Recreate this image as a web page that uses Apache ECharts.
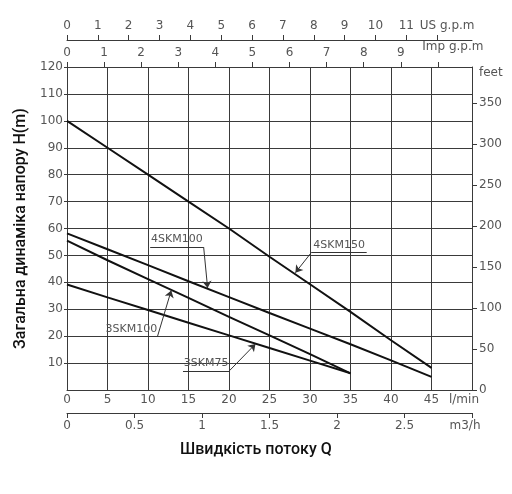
<!DOCTYPE html>
<html>
<head>
<meta charset="utf-8">
<script src="https://cdn.jsdelivr.net/npm/echarts@6/dist/echarts.min.js"></script>
<style>
  html, body { margin: 0; padding: 0; background: #fff; }
  #chart { width: 512px; height: 494px; }
</style>
</head>
<body>
<div id="chart"></div>
<script>
// flow in l/min, head in metres
const flowLpm = [0, 5, 10, 15, 20, 25, 30, 35, 40, 45];
const head4SKM150 = [100, 90, 80, 70, 60, 49.5, 39.3, 29, 18.5, 8.2];
const head4SKM100 = [58.2, 52.3, 46.4, 40.4, 34.5, 28.6, 22.8, 17, 11, 4.9];
const head3SKM100 = [55.5, 48.2, 41.2, 34.2, 27.2, 20.3, 13.3, 6.2];
const head3SKM75 = [39.2, 34.4, 29.7, 25, 20.3, 15.6, 10.9, 6.2];

// secondary scales
const usGpmTicks = [0, 1, 2, 3, 4, 5, 6, 7, 8, 9, 10, 11, 12];
const impGpmTicks = [0, 1, 2, 3, 4, 5, 6, 7, 8, 9, 10];
const feetTicks = [0, 50, 100, 150, 200, 250, 300, 350];

// callouts: underline from -> to, leader from -> arrow tip on the curve
const callouts = {
  '4SKM150': { under: [[30.2, 51.2], [37.0, 51.2]], leader: [[30.2, 51.2], [28.2, 43.6]] },
  '4SKM100': { under: [[10.27, 53.1], [16.87, 53.1]], leader: [[16.87, 53.1], [17.36, 37.9]] },
  '3SKM100': { under: [[4.70, 20.0], [11.18, 20.0]], leader: [[11.18, 20.0], [12.87, 37.0]] },
  '3SKM75':  { under: [[14.32, 7.15], [20.05, 7.15]], leader: [[20.05, 7.15], [23.27, 17.1]] }
};

const pairs = (ys) => ys.map((y, i) => [flowLpm[i], y]);

const labelFont = { fontFamily: 'DejaVu Sans', fontSize: 12, color: '#555' };
const gridColor = '#3a3a3a';

function makeSeries(name, ys) {
  const c = callouts[name];
  return {
    name: name,
    type: 'line',
    xAxisIndex: 0,
    yAxisIndex: 0,
    data: pairs(ys),
    symbol: 'none',
    lineStyle: { color: '#111', width: 2 },
    markLine: {
      silent: true,
      symbol: ['none', 'arrow'],
      symbolSize: 7,
      lineStyle: { color: '#333', width: 1, type: 'solid' },
      label: { show: false },
      data: [
        [{ coord: c.leader[0] }, { coord: c.leader[1] }],
        [
          {
            coord: c.under[0], symbol: 'none',
            label: {
              show: true, formatter: name, position: 'insideMiddleTop',
              distance: 2, fontFamily: 'DejaVu Sans', fontSize: 11, color: '#555'
            }
          },
          { coord: c.under[1], symbol: 'none' }
        ]
      ]
    }
  };
}

const chart = echarts.init(document.getElementById('chart'));

chart.setOption({
  animation: false,
  backgroundColor: '#fff',
  grid: { left: 67, right: 40, top: 67, bottom: 104 },
  xAxis: [
    {
      type: 'value', position: 'bottom', min: 0, max: 50, interval: 5,
      axisLine: { show: true, onZero: false, lineStyle: { color: gridColor } },
      axisTick: { show: false },
      splitLine: { show: true, lineStyle: { color: gridColor, width: 1 } },
      axisLabel: {
        ...labelFont, margin: 4, showMaxLabel: true, showMinLabel: true,
        formatter: (v) => v === 50 ? '{u|l/min}' : String(v),
        rich: { u: { ...labelFont, padding: [0, 16, 0, 0] } }
      }
    },
    {
      type: 'value', position: 'bottom', offset: 23, min: 0, max: 3, interval: 0.5,
      axisLine: { show: true, onZero: false, lineStyle: { color: gridColor } },
      axisTick: { show: true, length: 5, lineStyle: { color: gridColor } },
      splitLine: { show: false },
      axisLabel: {
        ...labelFont, margin: 7, showMaxLabel: true, showMinLabel: true,
        customValues: [0, 0.5, 1, 1.5, 2, 2.5, 3],
        formatter: (v) => v === 3 ? '{u|m3/h}' : String(v),
        rich: { u: { ...labelFont, padding: [0, 14, 0, 0] } }
      }
    },
    {
      type: 'value', position: 'top', min: 0, max: 10.92,
      axisLine: { show: true, onZero: false, lineStyle: { color: gridColor } },
      axisTick: { show: true, length: 5, customValues: impGpmTicks, lineStyle: { color: gridColor } },
      splitLine: { show: false },
      axisLabel: {
        ...labelFont, margin: 8,
        customValues: impGpmTicks,
        formatter: (v) => v === 10 ? '{u|Imp g.p.m}' : String(v),
        rich: { u: { ...labelFont, padding: [0, 0, 6, 30] } }
      }
    },
    {
      type: 'value', position: 'top', offset: 27, min: 0, max: 13.13,
      axisLine: { show: true, onZero: false, lineStyle: { color: gridColor } },
      axisTick: { show: true, length: 5, customValues: usGpmTicks, lineStyle: { color: gridColor } },
      splitLine: { show: false },
      axisLabel: {
        ...labelFont, margin: 8,
        customValues: usGpmTicks,
        formatter: (v) => v === 12 ? '{u|US g.p.m}' : String(v),
        rich: { u: { ...labelFont, padding: [0, 0, 0, 20] } }
      }
    }
  ],
  yAxis: [
    {
      type: 'value', position: 'left', min: 0, max: 120, interval: 10,
      name: 'Загальна динаміка напору H(m)',
      nameLocation: 'middle', nameGap: 36, nameRotate: 90,
      nameTextStyle: { fontFamily: 'Roboto', fontSize: 16, fontWeight: 500, color: '#111' },
      axisLine: { show: true, onZero: false, lineStyle: { color: gridColor } },
      axisTick: { show: true, length: 3, lineStyle: { color: gridColor } },
      splitLine: { show: true, lineStyle: { color: gridColor, width: 1 } },
      axisLabel: { ...labelFont, margin: 4, showMinLabel: false, showMaxLabel: true }
    },
    {
      type: 'value', position: 'right', min: 0, max: 393.7,
      axisLine: { show: true, onZero: false, lineStyle: { color: gridColor } },
      axisTick: { show: true, length: 5, customValues: feetTicks, lineStyle: { color: gridColor } },
      splitLine: { show: false },
      axisLabel: {
        ...labelFont, margin: 7,
        customValues: feetTicks.concat([393.7]),
        formatter: (v) => v > 360 ? '{u|feet}' : String(v),
        rich: { u: { ...labelFont, padding: [12, 0, 0, 0] } }
      }
    }
  ],
  graphic: [
    {
      type: 'text', left: 180, top: 442,
      style: {
        text: 'Швидкість потоку Q',
        fontFamily: 'Roboto', fontSize: 16, fontWeight: 500, fill: '#111'
      }
    }
  ],
  series: [
    makeSeries('4SKM150', head4SKM150),
    makeSeries('4SKM100', head4SKM100),
    makeSeries('3SKM100', head3SKM100),
    makeSeries('3SKM75', head3SKM75)
  ]
});
</script>
</body>
</html>
